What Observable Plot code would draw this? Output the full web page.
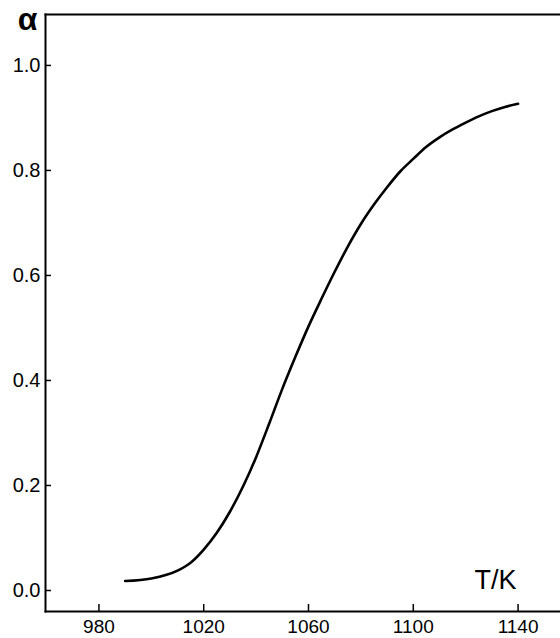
<!DOCTYPE html>
<html>
<head>
<meta charset="utf-8">
<script src="https://cdn.jsdelivr.net/npm/d3@7"></script>
<script src="https://cdn.jsdelivr.net/npm/@observablehq/plot@0.6"></script>
<style>
  html, body { margin: 0; padding: 0; background: #fff; }
  #chart g[aria-label="y-axis tick label"] text { font-size: 20px !important; }
  #chart g[aria-label="x-axis tick label"] text { font-size: 19px !important; }
</style>
</head>
<body>
<div id="chart"></div>
<script>
const temperature = [990, 1000, 1010, 1015, 1020, 1025, 1030, 1035, 1040, 1045, 1050, 1055, 1060, 1065, 1070, 1075, 1080, 1085, 1090, 1095, 1100, 1105, 1110, 1115, 1120, 1125, 1130, 1135, 1140];
const alpha = [0.018, 0.023, 0.038, 0.053, 0.078, 0.110, 0.150, 0.198, 0.254, 0.318, 0.384, 0.445, 0.503, 0.556, 0.607, 0.655, 0.698, 0.735, 0.768, 0.798, 0.822, 0.845, 0.863, 0.878, 0.891, 0.903, 0.913, 0.921, 0.927];
const xTicks = [980, 1020, 1060, 1100, 1140];
const yTicks = [0.0, 0.2, 0.4, 0.6, 0.8, 1.0];
const xLabel = "T/K";
const yLabel = "α";

const data = temperature.map((t, i) => ({T: t, a: alpha[i]}));

const chart = Plot.plot({
  width: 560,
  height: 638,
  marginLeft: 45,
  marginTop: 14,
  marginRight: 0,
  marginBottom: 27,
  style: {fontFamily: "'Liberation Sans', Arial, sans-serif", fontSize: "19px", color: "#000", background: "#fff"},
  x: {domain: [959.6, 1156.2]},
  y: {domain: [-0.04, 1.097]},
  marks: [
    Plot.frame({anchor: "left", stroke: "#000", strokeWidth: 2}),
    Plot.frame({anchor: "top", stroke: "#000", strokeWidth: 2}),
    Plot.frame({anchor: "bottom", stroke: "#000", strokeWidth: 2}),
    Plot.axisY({ticks: yTicks, tickSize: -6, tickPadding: 11, tickFormat: d3.format(".1f"), label: null, strokeWidth: 1.5, fontSize: 20}),
    Plot.axisX({ticks: xTicks, tickSize: -7, tickPadding: 15, tickFormat: d => String(d), label: null, strokeWidth: 1.5, fontSize: 19}),
    Plot.line(data, {x: "T", y: "a", stroke: "#000", strokeWidth: 2.6, curve: "monotone-x"}),
    Plot.text([yLabel], {frameAnchor: "top-left", lineAnchor: "middle", textAnchor: "middle", dx: -18, dy: 5, fontSize: 32, fontWeight: "bold", text: d => d}),
    Plot.text([xLabel], {frameAnchor: "bottom-right", lineAnchor: "bottom", textAnchor: "end", dx: -44, dy: -23, fontSize: 27, text: d => d, letterSpacing: "3px"})
  ]
});
document.getElementById("chart").appendChild(chart);
</script>
</body>
</html>
